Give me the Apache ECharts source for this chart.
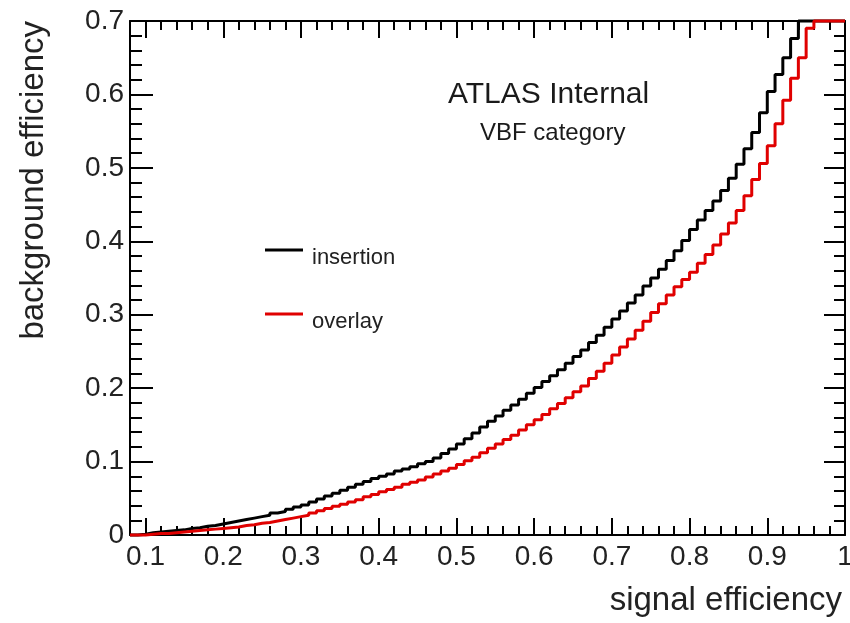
<!DOCTYPE html>
<html>
<head>
<meta charset="utf-8">
<script src="https://cdn.jsdelivr.net/npm/echarts@6/dist/echarts.min.js"></script>
<style>
  html, body { margin: 0; padding: 0; background: #fff; }
  #container { width: 850px; height: 623px; }
</style>
</head>
<body>
<div id="container"></div>
<script>
// histogram bins: left edge of first bin, bin width
var binStart = 0.08;
var binWidth = 0.01;

// background efficiency per bin (bins 0.08 ... 1.00)
var insertion = [
  0.000, 0.001, 0.003, 0.004, 0.005, 0.006, 0.007, 0.009, 0.010, 0.012,
  0.013, 0.015, 0.017, 0.019, 0.021, 0.023, 0.025, 0.027, 0.030, 0.032,
  0.035, 0.038, 0.041, 0.045, 0.049, 0.053, 0.057, 0.061, 0.065, 0.069,
  0.073, 0.077, 0.080, 0.083, 0.087, 0.090, 0.093, 0.097, 0.100, 0.105,
  0.111, 0.117, 0.124, 0.131, 0.139, 0.147, 0.155, 0.162, 0.170, 0.177,
  0.185, 0.193, 0.201, 0.209, 0.217, 0.225, 0.234, 0.243, 0.252, 0.262,
  0.272, 0.283, 0.294, 0.305, 0.316, 0.327, 0.339, 0.350, 0.362, 0.374,
  0.387, 0.401, 0.416, 0.429, 0.442, 0.455, 0.469, 0.486, 0.505, 0.526,
  0.548, 0.575, 0.604, 0.627, 0.650, 0.676, 0.700, 0.700, 0.700, 0.700,
  0.700, 0.700, 0.700
];
var overlay = [
  0.000, 0.000, 0.001, 0.002, 0.002, 0.003, 0.004, 0.005, 0.006, 0.007,
  0.008, 0.009, 0.010, 0.011, 0.013, 0.014, 0.016, 0.017, 0.019, 0.021,
  0.023, 0.025, 0.027, 0.030, 0.033, 0.036, 0.039, 0.042, 0.045, 0.048,
  0.052, 0.055, 0.059, 0.062, 0.065, 0.069, 0.072, 0.075, 0.079, 0.083,
  0.087, 0.091, 0.096, 0.101, 0.106, 0.112, 0.118, 0.124, 0.130, 0.136,
  0.143, 0.150, 0.157, 0.164, 0.172, 0.179, 0.187, 0.195, 0.203, 0.213,
  0.223, 0.234, 0.245, 0.256, 0.267, 0.279, 0.291, 0.303, 0.315, 0.327,
  0.338, 0.348, 0.358, 0.370, 0.382, 0.395, 0.410, 0.425, 0.442, 0.462,
  0.484, 0.506, 0.530, 0.560, 0.592, 0.622, 0.650, 0.690, 0.700, 0.700,
  0.700, 0.700, 0.700
];
var seriesNames = ['insertion', 'overlay'];
var seriesColors = ['#000000', '#e00000'];

var xMajor = [0.1, 0.2, 0.3, 0.4, 0.5, 0.6, 0.7, 0.8, 0.9, 1.0];

function toPoints(vals) {
  var pts = [];
  for (var i = 0; i < vals.length; i++) {
    pts.push([+(binStart + i * binWidth).toFixed(2), vals[i]]);
  }
  return pts;
}

var FONT = 'Liberation Sans';
var TXT = '#222';

function lineOpt(show) { return { show: show, onZero: false, lineStyle: { color: '#000', width: 2 } }; }
function tickOpt(len, custom) {
  var t = { show: true, inside: true, length: len, lineStyle: { color: '#000', width: 2 } };
  if (custom) t.customValues = custom;
  return t;
}

var dom = document.getElementById('container');
var myChart = echarts.init(dom);

var option = {
  backgroundColor: '#fff',
  animation: false,
  grid: {
    left: 130, right: 5, top: 21, bottom: 88,
    containLabel: false,
    outerBoundsMode: 'none'
  },
  legend: {
    orient: 'vertical',
    left: 260,
    top: 226,
    padding: 5,
    itemWidth: 38,
    itemHeight: 3,
    itemGap: 26,
    icon: 'rect',
    data: seriesNames,
    // blank first line drops the label a little below its line marker
    formatter: function (name) { return '\n' + name; },
    textStyle: { fontFamily: FONT, fontSize: 22, lineHeight: 16, color: TXT, padding: [0, 0, 0, 4] }
  },
  xAxis: [
    {
      // bottom, major ticks + labels
      type: 'value', position: 'bottom', min: 0.08, max: 1,
      axisLine: lineOpt(true),
      axisTick: tickOpt(17, xMajor),
      axisLabel: {
        customValues: xMajor, margin: 8, fontFamily: FONT, fontSize: 28, color: TXT,
        formatter: function (v) { return v === 1 ? '1' : String(+v.toFixed(1)); }
      },
      splitLine: { show: false },
      name: 'signal efficiency',
      nameLocation: 'end',
      nameGap: -3,
      nameTextStyle: { fontFamily: FONT, fontSize: 33, color: TXT, align: 'right', verticalAlign: 'top', padding: [49, 0, 0, 0] }
    },
    {
      // top, major ticks
      type: 'value', position: 'top', min: 0.08, max: 1,
      axisLine: lineOpt(true),
      axisTick: tickOpt(17, xMajor),
      axisLabel: { show: false },
      splitLine: { show: false }
    },
    {
      // bottom, minor ticks every 0.02
      type: 'value', position: 'bottom', min: 0.08, max: 1, interval: 0.02,
      axisLine: lineOpt(false),
      axisTick: tickOpt(9),
      axisLabel: { show: false },
      splitLine: { show: false }
    },
    {
      // top, minor ticks every 0.02
      type: 'value', position: 'top', min: 0.08, max: 1, interval: 0.02,
      axisLine: lineOpt(false),
      axisTick: tickOpt(9),
      axisLabel: { show: false },
      splitLine: { show: false }
    }
  ],
  yAxis: [
    {
      type: 'value', position: 'left', min: 0, max: 0.7, interval: 0.1,
      axisLine: lineOpt(true),
      axisTick: tickOpt(23),
      minorTick: { show: true, splitNumber: 5, length: 12, lineStyle: { color: '#000', width: 2 } },
      axisLabel: {
        margin: 6, fontFamily: FONT, fontSize: 28, color: TXT,
        formatter: function (v) { return v === 0 ? '0' : String(+v.toFixed(1)); }
      },
      splitLine: { show: false },
      name: 'background efficiency',
      nameLocation: 'end',
      nameGap: 0,
      nameRotate: 90,
      nameTextStyle: { fontFamily: FONT, fontSize: 33, color: TXT, align: 'right', verticalAlign: 'bottom', padding: [0, 0, 80, 0] }
    },
    {
      type: 'value', position: 'right', min: 0, max: 0.7, interval: 0.1,
      axisLine: lineOpt(true),
      axisTick: tickOpt(21),
      minorTick: { show: true, splitNumber: 5, length: 11, lineStyle: { color: '#000', width: 2 } },
      axisLabel: { show: false },
      splitLine: { show: false }
    }
  ],
  graphic: [
    {
      type: 'text', left: 448, top: 80,
      style: { text: 'ATLAS Internal', fontFamily: FONT, fontSize: 30, fill: '#1a1a1a' }
    },
    {
      type: 'text', left: 480, top: 121,
      style: { text: 'VBF category', fontFamily: FONT, fontSize: 24, fill: '#1a1a1a' }
    }
  ],
  series: [
    {
      name: seriesNames[0], type: 'line', xAxisIndex: 0, yAxisIndex: 0,
      step: 'end', showSymbol: false, clip: false,
      lineStyle: { color: seriesColors[0], width: 3 },
      itemStyle: { color: seriesColors[0] },
      data: toPoints(insertion)
    },
    {
      name: seriesNames[1], type: 'line', xAxisIndex: 0, yAxisIndex: 0,
      step: 'end', showSymbol: false, clip: false,
      lineStyle: { color: seriesColors[1], width: 3 },
      itemStyle: { color: seriesColors[1] },
      data: toPoints(overlay)
    }
  ]
};

if (option && typeof option === 'object') {
  myChart.setOption(option, true);
}
</script>
</body>
</html>
